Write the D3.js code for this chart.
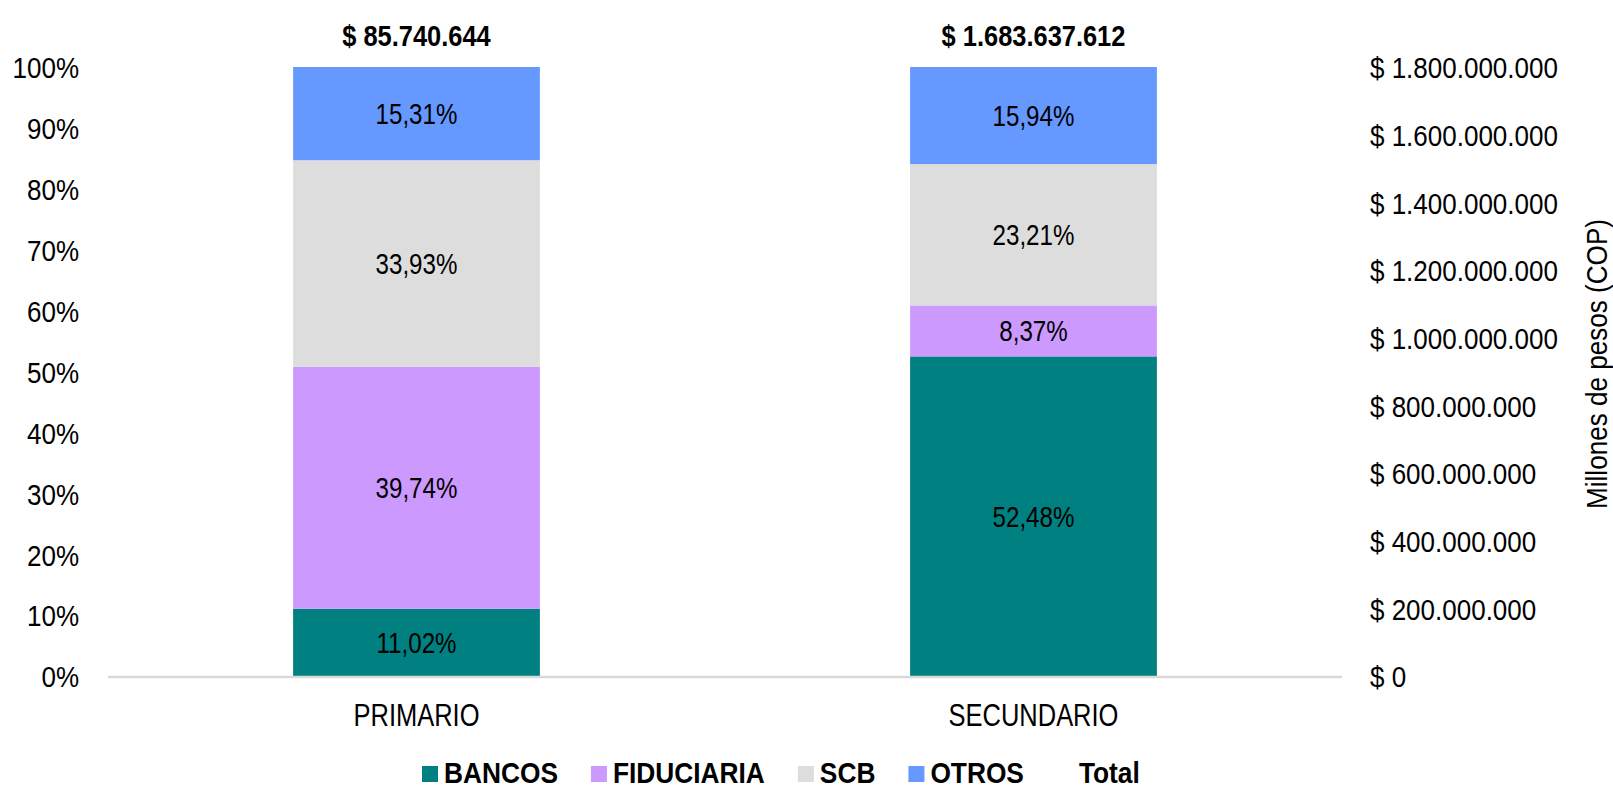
<!DOCTYPE html>
<html>
<head>
<meta charset="utf-8">
<script src="https://cdn.jsdelivr.net/npm/d3@7/dist/d3.min.js"></script>
<style>
html,body{margin:0;padding:0;background:#fff;}
svg{display:block;}
</style>
</head>
<body>
<svg id="chart" width="1613" height="789"></svg>
<script>
const categories = ["PRIMARIO", "SECUNDARIO"];
const seriesNames = ["BANCOS", "FIDUCIARIA", "SCB", "OTROS"];
const seriesColors = ["#008080", "#CC99FF", "#DDDDDD", "#6699FF"];
const bancos = [11.02, 52.48];
const fiduciaria = [39.74, 8.37];
const scb = [33.93, 23.21];
const otros = [15.31, 15.94];
const totals = [85740644, 1683637612];
const leftTicks = [0, 10, 20, 30, 40, 50, 60, 70, 80, 90, 100];
const rightTicks = [0, 200000000, 400000000, 600000000, 800000000, 1000000000, 1200000000, 1400000000, 1600000000, 1800000000];
const rightAxisTitle = "Millones de pesos (COP)";
const totalLegendName = "Total";

(function(){
function hasFont(name){
  const c = document.createElement("canvas").getContext("2d");
  const s = "abcdefghijklmnopqrstuvwxyz0123456789";
  c.font = "40px monospace"; const w1 = c.measureText(s).width;
  c.font = "40px '" + name + "', monospace"; const w2 = c.measureText(s).width;
  c.font = "40px serif"; const w3 = c.measureText(s).width;
  c.font = "40px '" + name + "', serif"; const w4 = c.measureText(s).width;
  return w1 !== w2 || w3 !== w4;
}
const narrow = hasFont("Liberation Sans Narrow");
const FONT = narrow ? "'Liberation Sans Narrow', 'Liberation Sans', Arial, sans-serif" : "'Liberation Sans', Arial, sans-serif";

const locale = d3.formatLocale({decimal: ",", thousands: ".", grouping: [3], currency: ["$ ", ""]});
const fmtMoney = v => "$ " + locale.format(",.0f")(v);
const fmtPct = v => locale.format(".2f")(v) + "%";

const svg = d3.select("#chart");

function factor(sample, size, weight, target){
  const t = svg.append("text").attr("font-family", FONT).attr("font-size", size).attr("font-weight", weight).text(sample);
  const w = t.node().getComputedTextLength();
  t.remove();
  return target / w;
}
const kTick = factor("$ 1.800.000.000", 30, "normal", 188);
const kCat = factor("PRIMARIO", 31, "normal", 126);
const kData = factor("15,31%", 29, "normal", 82);
const kTotal = factor("$ 1.683.637.612", 30, "bold", 184);
const kLeg = factor("BANCOS", 30, "bold", 114);
const kTitle = factor(rightAxisTitle, 30, "normal", 290);

function stretch(sel, k, anchorFn){
  sel.each(function(d, i){
    const t = d3.select(this);
    const ex = anchorFn ? anchorFn(d, i) : +t.attr("x");
    t.attr("transform", (t.attr("transform")||"") + ` translate(${ex},0) scale(${k},1) translate(${-ex},0)`);
  });
}

const pLeft = 108, pRight = 1342, pTop = 67, pBottom = 676;

const x = d3.scaleBand().domain(categories).range([pLeft, pRight]).paddingInner(0.6).paddingOuter(0.3);
const y = d3.scaleLinear().domain([0, 100]).range([pBottom, pTop]);
const y2 = d3.scaleLinear().domain([0, 1800000000]).range([pBottom, pTop]);

const rows = categories.map((c, i) => ({cat: c, BANCOS: bancos[i], FIDUCIARIA: fiduciaria[i], SCB: scb[i], OTROS: otros[i]}));
const stack = d3.stack().keys(seriesNames)(rows);

const g = svg.append("g");
stack.forEach((layer, si) => {
  g.selectAll(null).data(layer).enter().append("rect")
    .attr("x", d => x(d.data.cat))
    .attr("width", x.bandwidth())
    .attr("y", d => y(d[1]))
    .attr("height", d => y(d[0]) - y(d[1]))
    .attr("fill", seriesColors[si]);
});

svg.append("line").attr("x1", pLeft).attr("x2", pRight).attr("y1", pBottom + 1).attr("y2", pBottom + 1)
  .attr("stroke", "#D9D9D9").attr("stroke-width", 2.5);

stack.forEach((layer, si) => {
  const lbl = svg.selectAll(null).data(layer).enter().append("text")
    .attr("x", d => x(d.data.cat) + x.bandwidth() / 2)
    .attr("y", d => (y(d[0]) + y(d[1])) / 2)
    .attr("dy", "0.36em")
    .attr("text-anchor", "middle")
    .attr("font-family", FONT).attr("font-size", 29).attr("fill", "#000")
    .text(d => fmtPct(d[1] - d[0]));
  stretch(lbl, kData);
});

const tl = svg.selectAll(null).data(categories).enter().append("text")
  .attr("x", c => x(c) + x.bandwidth() / 2)
  .attr("y", y(100) - 32)
  .attr("dy", "0.36em")
  .attr("text-anchor", "middle")
  .attr("font-family", FONT).attr("font-size", 30).attr("font-weight", "bold").attr("fill", "#000")
  .text((c, i) => fmtMoney(totals[i]));
stretch(tl, kTotal);

const la = svg.append("g").attr("transform", `translate(${pLeft},0)`)
  .call(d3.axisLeft(y).tickValues(leftTicks).tickSize(0).tickPadding(29).tickFormat(d => d + "%"));
la.select(".domain").remove();
la.selectAll("text").attr("font-family", FONT).attr("font-size", 30).attr("fill", "#000").attr("dy", "0.36em");
stretch(la.selectAll("text"), kTick, () => -29);

const ra = svg.append("g").attr("transform", `translate(${pRight},0)`)
  .call(d3.axisRight(y2).tickValues(rightTicks).tickSize(0).tickPadding(28).tickFormat(fmtMoney));
ra.select(".domain").remove();
ra.selectAll("text").attr("font-family", FONT).attr("font-size", 30).attr("fill", "#000").attr("dy", "0.36em");
stretch(ra.selectAll("text"), kTick, () => 28);

svg.append("text")
  .attr("transform", `translate(1596,364) rotate(-90) scale(${kTitle},1)`)
  .attr("text-anchor", "middle").attr("dy", "0.36em")
  .attr("font-family", FONT).attr("font-size", 30).attr("fill", "#000")
  .text(rightAxisTitle);

const xa = svg.append("g").attr("transform", `translate(0,${pBottom})`)
  .call(d3.axisBottom(x).tickSize(0).tickPadding(28));
xa.select(".domain").remove();
xa.selectAll("text").attr("font-family", FONT).attr("font-size", 31).attr("fill", "#000");
stretch(xa.selectAll("text"), kCat, () => 0);

const legendItems = seriesNames.map((n, i) => ({name: n, color: seriesColors[i]})).concat([{name: totalLegendName, color: null}]);
const leg = svg.append("g");
let lx = 422;
legendItems.forEach((it, i) => {
  if (it.color) {
    leg.append("rect").attr("x", lx).attr("y", 766).attr("width", 16).attr("height", 16).attr("fill", it.color);
  }
  const tx = lx + 22;
  const t = leg.append("text").attr("x", tx).attr("y", 783)
    .attr("font-family", FONT).attr("font-size", 30).attr("font-weight", "bold").attr("fill", "#000")
    .text(it.name);
  stretch(t, kLeg);
  const w = t.node().getComputedTextLength() * kLeg;
  lx = tx + w + 33;
});
})();
</script>
</body>
</html>
